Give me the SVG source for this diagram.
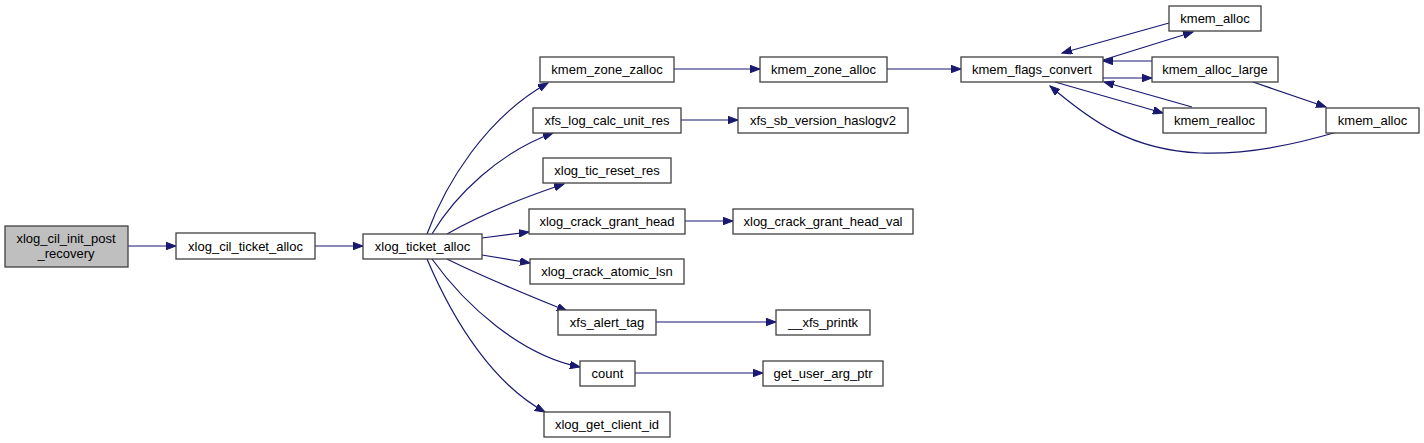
<svg xmlns="http://www.w3.org/2000/svg" width="1424" height="443" viewBox="0 0 1424 443">
<style>
.n rect{fill:#ffffff;stroke:#404040;stroke-width:1.3}
.n.m rect{fill:#bfbfbf}
.n text{font-family:"Liberation Sans",Arial,Helvetica,sans-serif;font-size:13px;fill:#000;text-anchor:middle}
.e path{fill:none;stroke:#191970;stroke-width:1.2;marker-end:url(#ah)}
</style>
<defs>
<marker id="ah" markerUnits="userSpaceOnUse" markerWidth="11" markerHeight="8" refX="10" refY="3.75" orient="auto">
<path d="M0,0 L10,3.75 L0,7.5 z" fill="#191970" stroke="#191970" stroke-width="1"/>
</marker>
</defs>
<rect width="1424" height="443" fill="#ffffff"/>
<g id="connectors" class="e">
<path d="M128,246 L176,246"/>
<path d="M315,246 L363,246"/>
<path d="M427,234 C445,185 485,118 548,83"/>
<path d="M432,234 C455,195 500,152 553,133"/>
<path d="M447,234 C480,215 525,197 564,184"/>
<path d="M482,238 L529,232"/>
<path d="M482,255 L530,263"/>
<path d="M447,259 C485,278 530,296 567,311"/>
<path d="M432,259 C465,305 520,355 580,367"/>
<path d="M427,259 C455,325 495,385 545,412"/>
<path d="M674,69 L760,69"/>
<path d="M681,120 L738,120"/>
<path d="M685,221 L733,221"/>
<path d="M656,322 L776,322"/>
<path d="M635,373 L763,373"/>
<path d="M887,69 L961,69"/>
<path d="M1103,60 L1193,32"/>
<path d="M1169,23 L1062,53"/>
<path d="M1152,61 L1103,61"/>
<path d="M1103,78 L1152,78"/>
<path d="M1192,107 L1104,82"/>
<path d="M1055,82 L1163,113"/>
<path d="M1253,82 L1326,107"/>
<path d="M1337,132 C1300,143 1250,155 1200,153 C1130,150 1090,120 1050,86"/>
</g>
<g id="xlog_cil_init_post_recovery" class="n m"><rect x="5" y="226" width="123" height="41"/><text x="66" y="243">xlog_cil_init_post</text><text x="66" y="258">_recovery</text></g>
<g id="xlog_cil_ticket_alloc" class="n"><rect x="176" y="233" width="139" height="26"/><text x="245.5" y="250.5">xlog_cil_ticket_alloc</text></g>
<g id="xlog_ticket_alloc" class="n"><rect x="363" y="234" width="119" height="25"/><text x="422.5" y="251">xlog_ticket_alloc</text></g>
<g id="kmem_zone_zalloc" class="n"><rect x="540" y="57" width="134" height="25"/><text x="607" y="74">kmem_zone_zalloc</text></g>
<g id="xfs_log_calc_unit_res" class="n"><rect x="533" y="108" width="148" height="25"/><text x="607" y="125">xfs_log_calc_unit_res</text></g>
<g id="xlog_tic_reset_res" class="n"><rect x="543" y="158" width="128" height="25"/><text x="607" y="175">xlog_tic_reset_res</text></g>
<g id="xlog_crack_grant_head" class="n"><rect x="529" y="209" width="156" height="25"/><text x="607" y="226">xlog_crack_grant_head</text></g>
<g id="xlog_crack_atomic_lsn" class="n"><rect x="530" y="259" width="154" height="25"/><text x="607" y="276">xlog_crack_atomic_lsn</text></g>
<g id="xfs_alert_tag" class="n"><rect x="558" y="310" width="98" height="25"/><text x="607" y="327">xfs_alert_tag</text></g>
<g id="count" class="n"><rect x="580" y="361" width="55" height="25"/><text x="607.5" y="378">count</text></g>
<g id="xlog_get_client_id" class="n"><rect x="544" y="412" width="126" height="25"/><text x="607" y="429">xlog_get_client_id</text></g>
<g id="kmem_zone_alloc" class="n"><rect x="760" y="57" width="127" height="25"/><text x="823.5" y="74">kmem_zone_alloc</text></g>
<g id="xfs_sb_version_haslogv2" class="n"><rect x="738" y="108" width="170" height="25"/><text x="823" y="125">xfs_sb_version_haslogv2</text></g>
<g id="xlog_crack_grant_head_val" class="n"><rect x="733" y="209" width="180" height="25"/><text x="823" y="226">xlog_crack_grant_head_val</text></g>
<g id="__xfs_printk" class="n"><rect x="776" y="310" width="94" height="25"/><text x="823" y="327">__xfs_printk</text></g>
<g id="get_user_arg_ptr" class="n"><rect x="763" y="361" width="120" height="25"/><text x="823" y="378">get_user_arg_ptr</text></g>
<g id="kmem_flags_convert" class="n"><rect x="961" y="57" width="142" height="25"/><text x="1032" y="74">kmem_flags_convert</text></g>
<g id="kmem_alloc_top" class="n"><rect x="1169" y="6" width="92" height="25"/><text x="1215" y="23">kmem_alloc</text></g>
<g id="kmem_alloc_large" class="n"><rect x="1152" y="57" width="126" height="25"/><text x="1215" y="74">kmem_alloc_large</text></g>
<g id="kmem_realloc" class="n"><rect x="1163" y="108" width="103" height="25"/><text x="1214.5" y="125">kmem_realloc</text></g>
<g id="kmem_alloc_right" class="n"><rect x="1326" y="108" width="93" height="25"/><text x="1372.5" y="125">kmem_alloc</text></g>
</svg>
